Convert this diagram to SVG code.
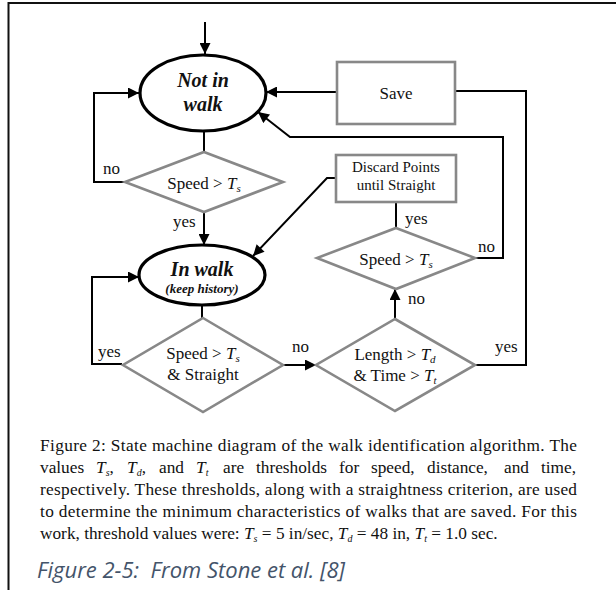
<svg xmlns="http://www.w3.org/2000/svg" width="616" height="590" viewBox="0 0 616 590">
<style>
.st{fill:#fff;stroke:#000;stroke-width:3.2}
.dc{fill:#fff;stroke:#888;stroke-width:2.6}
.bx{fill:#fff;stroke:#888;stroke-width:2.6}
.cn{fill:none;stroke:#000;stroke-width:2}
.t{font-family:"Liberation Serif","Times New Roman",serif;fill:#111}
.lb{font-size:17px}
.sn{font-size:20px;font-weight:bold;font-style:italic}
.it{font-style:italic}
.cap{font-family:"Liberation Serif","Times New Roman",serif;font-size:17.3px;fill:#111}
.fig{font-family:"Open Sans",Lato,sans-serif;font-style:italic;font-size:21.5px;fill:#44546A;white-space:pre}
</style>
<defs>
<marker id="ah" viewBox="0 0 10 10" refX="10" refY="5" markerUnits="userSpaceOnUse" markerWidth="13" markerHeight="11" orient="auto">
<path d="M0,0 L10,5 L0,10 z" fill="#000"/>
</marker>
</defs>
<g id="frame"><path d="M8.5,590 V3 H616" fill="none" stroke="#111" stroke-width="2"/></g>

<g id="connectors">
<path class="cn" d="M205,22 V54" marker-end="url(#ah)"/>
<path class="cn" d="M204,131 V152"/>
<path class="cn" d="M125,182 H94 V93 H139" marker-end="url(#ah)"/>
<path class="cn" d="M204,212 V245" marker-end="url(#ah)"/>
<path class="cn" d="M202,305 V318"/>
<path class="cn" d="M122,364 H92 V277 H139" marker-end="url(#ah)"/>
<path class="cn" d="M283,365 H316" marker-end="url(#ah)"/>
<path class="cn" d="M395,319 V289" marker-end="url(#ah)"/>
<path class="cn" d="M396,228 V202"/>
<path class="cn" d="M336,178 H327 L253,256" marker-end="url(#ah)"/>
<path class="cn" d="M475,258 H503 V137 H290 L258,112" marker-end="url(#ah)"/>
<path class="cn" d="M475,365 H526 V91 H455"/>
<path class="cn" d="M337,92 H266" marker-end="url(#ah)"/>
</g>

<g id="not-in-walk">
<ellipse class="st" cx="203" cy="93" rx="63" ry="38"/>
<text class="t sn" x="203" y="87" text-anchor="middle">Not in</text>
<text class="t sn" x="203" y="111" text-anchor="middle">walk</text>
</g>

<g id="speed1">
<polygon class="dc" points="204,152 283,182 204,212 125,182"/>
<text class="t lb" x="204" y="189" text-anchor="middle">Speed &gt; <tspan class="it">T</tspan><tspan class="it" font-size="11" dy="3">s</tspan></text>
</g>

<g id="in-walk">
<ellipse class="st" cx="202" cy="275" rx="63" ry="30"/>
<text class="t sn" x="202" y="276" text-anchor="middle">In walk</text>
<text class="t" x="202" y="293" text-anchor="middle" font-size="13" font-weight="bold" font-style="italic">(keep history)</text>
</g>

<g id="speed-straight">
<polygon class="dc" points="203,318 283,365 203,412 123,365"/>
<text class="t lb" x="203" y="359" text-anchor="middle">Speed &gt; <tspan class="it">T</tspan><tspan class="it" font-size="11" dy="3">s</tspan></text>
<text class="t lb" x="203" y="380" text-anchor="middle">&amp; Straight</text>
</g>

<g id="length-time">
<polygon class="dc" points="395,319 475,365 395,411 316,365"/>
<text class="t lb" x="395" y="360" text-anchor="middle">Length &gt; <tspan class="it">T</tspan><tspan class="it" font-size="11" dy="3">d</tspan></text>
<text class="t lb" x="395" y="381" text-anchor="middle">&amp; Time &gt; <tspan class="it">T</tspan><tspan class="it" font-size="11" dy="3">t</tspan></text>
</g>

<g id="speed2">
<polygon class="dc" points="396,228 475,258 396,289 317,258"/>
<text class="t lb" x="396" y="265" text-anchor="middle">Speed &gt; <tspan class="it">T</tspan><tspan class="it" font-size="11" dy="3">s</tspan></text>
</g>

<g id="save">
<rect class="bx" x="337" y="62" width="118" height="62"/>
<text class="t lb" x="396" y="99" text-anchor="middle">Save</text>
</g>

<g id="discard">
<rect class="bx" x="336" y="155" width="120" height="47"/>
<text class="t" font-size="15" x="396" y="172" text-anchor="middle">Discard Points</text>
<text class="t" font-size="15" x="396" y="190" text-anchor="middle">until Straight</text>
</g>

<g id="labels" class="t lb">
<text x="103" y="174">no</text>
<text x="173" y="227">yes</text>
<text x="98" y="357">yes</text>
<text x="292" y="352">no</text>
<text x="405" y="224">yes</text>
<text x="478" y="252">no</text>
<text x="408" y="304">no</text>
<text x="495" y="352">yes</text>
</g>

<g id="caption">
<text class="cap" x="40" y="451" textLength="537" lengthAdjust="spacing">Figure 2: State machine diagram of the walk identification algorithm. The</text>
<text class="cap" y="473"><tspan x="40">values</tspan><tspan x="96" class="it">T</tspan><tspan font-size="10" class="it" dy="3">s</tspan><tspan dy="-3">,</tspan><tspan x="127" class="it">T</tspan><tspan font-size="10" class="it" dy="3">d</tspan><tspan dy="-3">,</tspan><tspan x="159">and</tspan><tspan x="196" class="it">T</tspan><tspan font-size="10" class="it" dy="3">t</tspan><tspan x="223" dy="-3">are</tspan><tspan x="256">thresholds</tspan><tspan x="339">for</tspan><tspan x="371">speed,</tspan><tspan x="427">distance,</tspan><tspan x="504">and</tspan><tspan x="541">time,</tspan></text>
<text class="cap" x="40" y="495" textLength="537" lengthAdjust="spacing">respectively. These thresholds, along with a straightness criterion, are used</text>
<text class="cap" x="40" y="517" textLength="537" lengthAdjust="spacing">to determine the minimum characteristics of walks that are saved. For this</text>
<text class="cap" y="539"><tspan x="40">work, threshold values were: </tspan><tspan class="it">T</tspan><tspan font-size="10" class="it" dy="3">s</tspan><tspan dy="-3"> = 5 in/sec, </tspan><tspan class="it">T</tspan><tspan font-size="10" class="it" dy="3">d</tspan><tspan dy="-3"> = 48 in, </tspan><tspan class="it">T</tspan><tspan font-size="10" class="it" dy="3">t</tspan><tspan dy="-3"> = 1.0 sec.</tspan></text>
<text class="fig" x="37" y="578" textLength="308" lengthAdjust="spacingAndGlyphs">Figure 2-5:  From Stone et al. [8]</text>
</g>
</svg>
